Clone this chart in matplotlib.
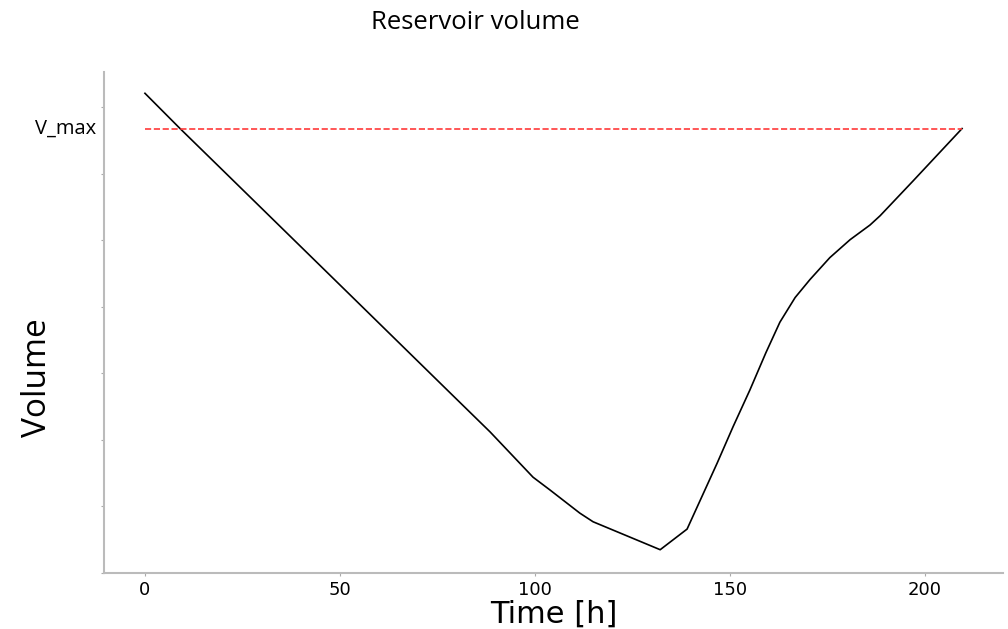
import matplotlib
matplotlib.use('Agg')
import matplotlib.pyplot as plt
import matplotlib.transforms as mtransforms

# time [h] and reservoir volume (arbitrary units, one y tick = 1 unit)
time_h = [0, 9, 20, 52.6, 78.2, 88.5, 99.5, 103.8, 108.2, 111.5, 114.9,
          132.1, 139.0, 146.7, 150.8, 155.1, 159.2, 162.8, 166.7, 170.5,
          175.6, 180.8, 185.9, 188.5, 196.9, 209.5]
volume = [7.21, 6.68, 6.05, 4.18, 2.71, 2.12, 1.44, 1.25, 1.05, 0.90, 0.77,
          0.35, 0.66, 1.65, 2.20, 2.75, 3.31, 3.77, 4.14, 4.41,
          4.74, 5.01, 5.23, 5.37, 5.89, 6.68]
v_max = 6.68
vmax_span = [0, 209.5]
x_ticks = [0, 50, 100, 150, 200]
y_ticks = [0, 1, 2, 3, 4, 5, 6, 7]

fig = plt.figure(figsize=(10.08, 6.29), dpi=100)
ax = fig.add_axes([104/1008, 56/629, 899/1008, 501/629])

ax.plot(time_h, volume, '-', color='black', lw=1.2)
ax.plot(vmax_span, [v_max, v_max], '--', color='#ff3a3a', lw=1.2)

ax.set_xlim(-10.5, 220)
ax.set_ylim(0, 7.53)
ax.set_xticks(x_ticks)
ax.set_yticks(y_ticks)
ax.set_yticklabels([])
ax.tick_params(axis='both', length=2, width=0.8, color='#aaaaaa', labelsize=13)

for side in ['top', 'right']:
    ax.spines[side].set_visible(False)
for side in ['left', 'bottom']:
    ax.spines[side].set_color('#bbbbbb')
    ax.spines[side].set_linewidth(1.5)

trans = mtransforms.blended_transform_factory(ax.transAxes, ax.transData)
ax.text(-0.009, v_max, 'V_max', transform=trans, ha='right', va='center',
        family='Open Sans', fontsize=14.5)

fig.text(0.472, 0.965, 'Reservoir volume', ha='center', va='center',
         family='Open Sans', fontsize=18.5)
fig.text(37/1008, 1 - 378/629, 'Volume', rotation=90, ha='center', va='center',
         family='Open Sans', fontsize=24)
fig.text(554/1008, 1 - 623/629, 'Time [h]', ha='center', va='baseline', fontsize=22)

fig.savefig('out.png', dpi=100)
